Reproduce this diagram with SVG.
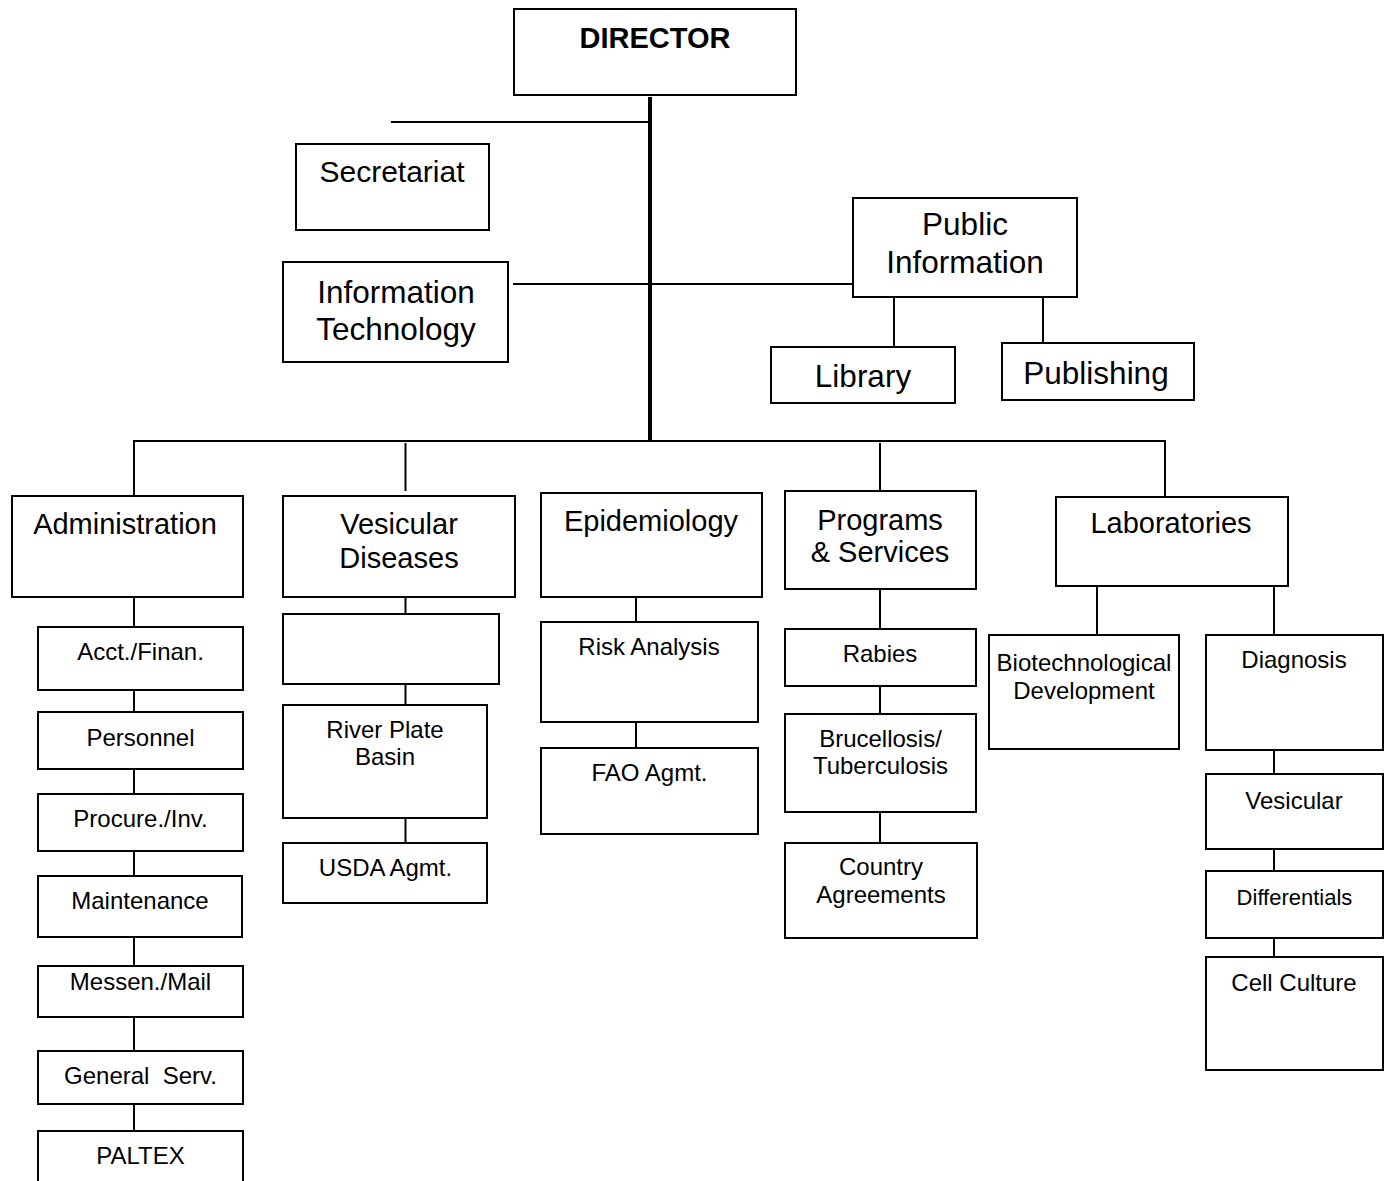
<svg xmlns="http://www.w3.org/2000/svg" width="1388" height="1181" viewBox="0 0 1388 1181">
<style>
rect{fill:#fff;stroke:#000;stroke-width:2}
text{font-family:"Liberation Sans",Arial,sans-serif;fill:#000;text-anchor:middle}
.xl{font-size:31.5px}
.l{font-size:29px}
.s{font-size:24px}
.b{font-size:29px;font-weight:bold}
#connectors line{stroke:#000;stroke-width:2}
#connectors line.thick{stroke-width:4}
</style>
<rect x="0" y="0" width="1388" height="1181" style="stroke:none"/>
<g id="connectors">
<line class="thick" x1="650" y1="97" x2="650" y2="442"/>
<line x1="391" y1="122" x2="650" y2="122"/>
<line x1="513" y1="284" x2="853" y2="284"/>
<line x1="133" y1="441" x2="1166" y2="441"/>
<line x1="134" y1="441" x2="134" y2="496"/>
<line x1="405.5" y1="443" x2="405.5" y2="491"/>
<line x1="880" y1="443" x2="880" y2="491"/>
<line x1="1165" y1="441" x2="1165" y2="497"/>
<line x1="894" y1="297" x2="894" y2="347"/>
<line x1="1043" y1="297" x2="1043" y2="343"/>
<line x1="134" y1="597" x2="134" y2="627"/>
<line x1="134" y1="690" x2="134" y2="712"/>
<line x1="134" y1="769" x2="134" y2="794"/>
<line x1="134" y1="851" x2="134" y2="876"/>
<line x1="134" y1="937" x2="134" y2="966"/>
<line x1="134" y1="1017" x2="134" y2="1051"/>
<line x1="134" y1="1104" x2="134" y2="1131"/>
<line x1="405.5" y1="597" x2="405.5" y2="614"/>
<line x1="405.5" y1="684" x2="405.5" y2="705"/>
<line x1="405.5" y1="818" x2="405.5" y2="843"/>
<line x1="636" y1="597" x2="636" y2="622"/>
<line x1="636" y1="722" x2="636" y2="748"/>
<line x1="880" y1="589" x2="880" y2="629"/>
<line x1="880" y1="686" x2="880" y2="714"/>
<line x1="880" y1="812" x2="880" y2="843"/>
<line x1="1097" y1="586" x2="1097" y2="635"/>
<line x1="1274" y1="586" x2="1274" y2="635"/>
<line x1="1274" y1="750" x2="1274" y2="774"/>
<line x1="1274" y1="849" x2="1274" y2="871"/>
<line x1="1274" y1="938" x2="1274" y2="957"/>
</g>
<g id="director"><rect x="514" y="9" width="282" height="86"/><text class="b" x="655" y="48">DIRECTOR</text></g>
<g id="secretariat"><rect x="296" y="144" width="193" height="86"/><text class="xl" x="392" y="182" style="font-size:30px">Secretariat</text></g>
<g id="it"><rect x="283" y="262" width="225" height="100"/><text class="xl" x="396" y="303">Information</text><text class="xl" x="396" y="340">Technology</text></g>
<g id="public-info"><rect x="853" y="198" width="224" height="99"/><text class="xl" x="965" y="235">Public</text><text class="xl" x="965" y="273">Information</text></g>
<g id="library"><rect x="771" y="347" width="184" height="56"/><text class="xl" x="863" y="387">Library</text></g>
<g id="publishing"><rect x="1002" y="343" width="192" height="57"/><text class="xl" x="1096" y="384">Publishing</text></g>
<g id="administration"><rect x="12" y="496" width="231" height="101"/><text class="l" x="125" y="534">Administration</text></g>
<g id="vesicular-diseases"><rect x="283" y="496" width="232" height="101"/><text class="l" x="399" y="534">Vesicular</text><text class="l" x="399" y="568">Diseases</text></g>
<g id="epidemiology"><rect x="541" y="493" width="221" height="104"/><text class="l" x="651" y="531">Epidemiology</text></g>
<g id="programs"><rect x="785" y="491" width="191" height="98"/><text class="l" x="880" y="530">Programs</text><text class="l" x="880" y="562">&amp; Services</text></g>
<g id="laboratories"><rect x="1056" y="497" width="232" height="89"/><text class="l" x="1171" y="533">Laboratories</text></g>
<g id="acct"><rect x="38" y="627" width="205" height="63"/><text class="s" x="140.5" y="660">Acct./Finan.</text></g>
<g id="personnel"><rect x="38" y="712" width="205" height="57"/><text class="s" x="140.5" y="746">Personnel</text></g>
<g id="procure"><rect x="38" y="794" width="205" height="57"/><text class="s" x="140.5" y="827">Procure./Inv.</text></g>
<g id="maintenance"><rect x="38" y="876" width="204" height="61"/><text class="s" x="140" y="909">Maintenance</text></g>
<g id="messen"><rect x="38" y="966" width="205" height="51"/><text class="s" x="140.5" y="990">Messen./Mail</text></g>
<g id="general"><rect x="38" y="1051" width="205" height="53"/><text class="s" x="140.5" y="1084" style="white-space:pre">General  Serv.</text></g>
<g id="paltex"><rect x="38" y="1131" width="205" height="60"/><text class="s" x="140.5" y="1164">PALTEX</text></g>
<g id="vd-blank"><rect x="283" y="614" width="216" height="70"/></g>
<g id="river-plate"><rect x="283" y="705" width="204" height="113"/><text class="s" x="385" y="738">River Plate</text><text class="s" x="385" y="765">Basin</text></g>
<g id="usda"><rect x="283" y="843" width="204" height="60"/><text class="s" x="385.5" y="876">USDA Agmt.</text></g>
<g id="risk"><rect x="541" y="622" width="217" height="100"/><text class="s" x="649" y="655">Risk Analysis</text></g>
<g id="fao"><rect x="541" y="748" width="217" height="86"/><text class="s" x="649.5" y="781">FAO Agmt.</text></g>
<g id="rabies"><rect x="785" y="629" width="191" height="57"/><text class="s" x="880" y="662">Rabies</text></g>
<g id="brucellosis"><rect x="785" y="714" width="191" height="98"/><text class="s" x="880.5" y="747">Brucellosis/</text><text class="s" x="880.5" y="774">Tuberculosis</text></g>
<g id="country"><rect x="785" y="843" width="192" height="95"/><text class="s" x="881" y="875">Country</text><text class="s" x="881" y="903">Agreements</text></g>
<g id="biotech"><rect x="989" y="635" width="190" height="114"/><text class="s" x="1084" y="671">Biotechnological</text><text class="s" x="1084" y="699">Development</text></g>
<g id="diagnosis"><rect x="1206" y="635" width="177" height="115"/><text class="s" x="1294" y="668">Diagnosis</text></g>
<g id="vesicular"><rect x="1206" y="774" width="177" height="75"/><text class="s" x="1294" y="809">Vesicular</text></g>
<g id="differentials"><rect x="1206" y="871" width="177" height="67"/><text class="s" x="1294.5" y="905" style="font-size:22px">Differentials</text></g>
<g id="cell-culture"><rect x="1206" y="957" width="177" height="113"/><text class="s" x="1294" y="991">Cell Culture</text></g>
</svg>
